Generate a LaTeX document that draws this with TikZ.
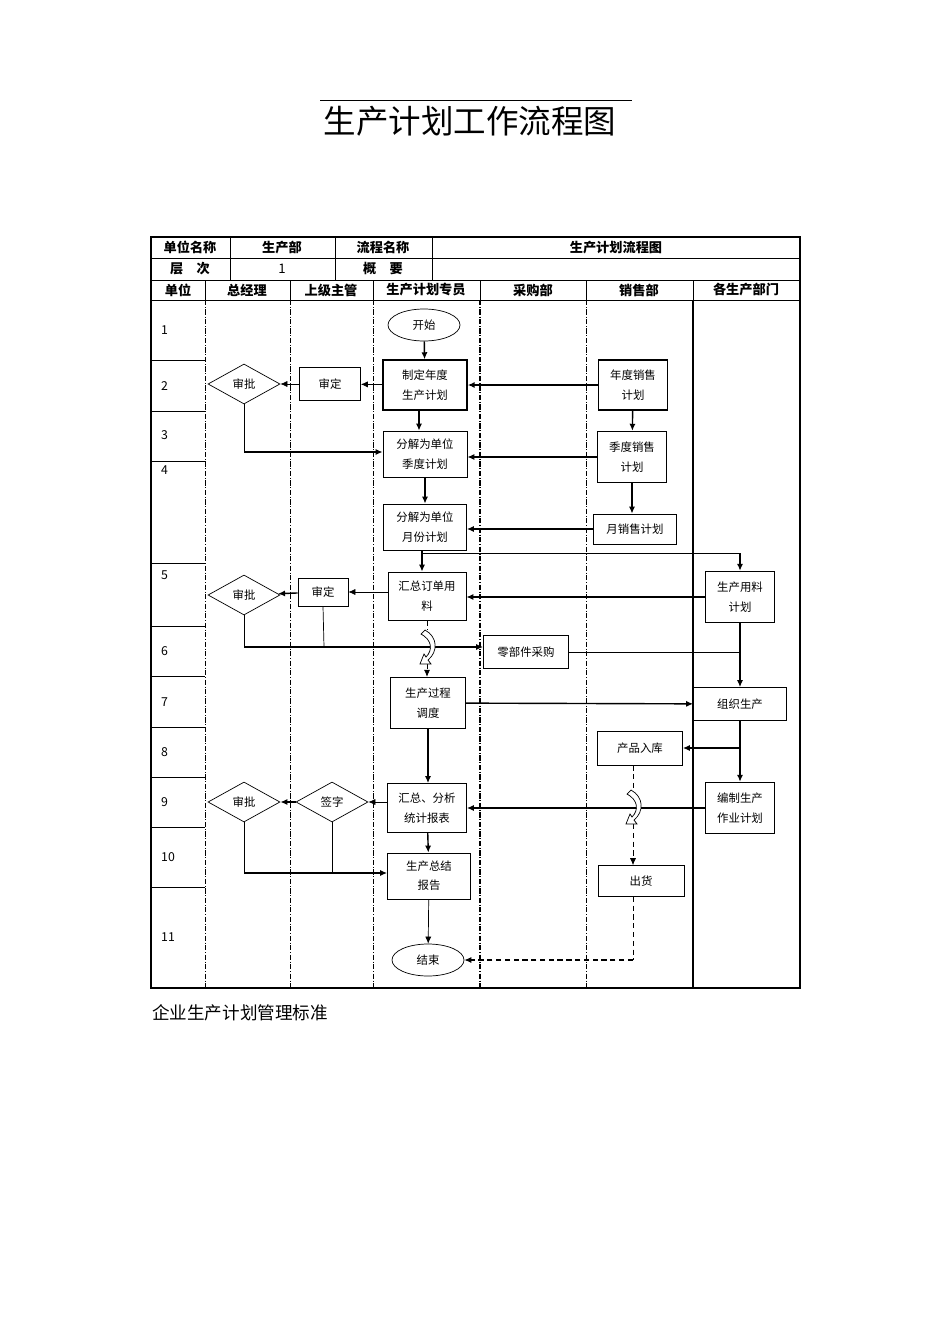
\documentclass[tikz,border=0pt]{standalone}
\usepackage{fontspec}
\setmainfont{Noto Sans CJK SC}
\usetikzlibrary{shapes.geometric,arrows.meta}
\begin{document}
\begin{tikzpicture}[x=0.02cm,y=-0.02cm,
  box/.style={draw,thick,minimum width=0pt,inner sep=0pt,align=center,font=\fontsize{6.5}{11}\selectfont},
  dia/.style={draw,diamond,aspect=1.8,minimum width=72*0.02cm,minimum height=40*0.02cm,inner sep=0pt,font=\fontsize{6.5}{8}\selectfont},
  oval/.style={draw,ellipse,minimum width=72*0.02cm,minimum height=32*0.02cm,inner sep=0pt,font=\fontsize{6.5}{8}\selectfont},
  arr/.style={-{Latex[length=4pt,width=3.5pt]},thick},
  tarr/.style={-{Latex[length=4pt,width=3.5pt]}},
  lane/.style={densely dashdotted,thin},
  hd/.style={font=\bfseries\fontsize{7.5}{9}\selectfont},
  num/.style={font=\fontsize{7}{8}\selectfont,anchor=west}]
\useasboundingbox (0,0) rectangle (950,1318);
% title
\draw[thin] (320,100) -- (632,100);
\node[font=\fontsize{18.5}{20}\selectfont] (title) at (470,121) {生产计划工作流程图};
\node[anchor=west,font=\fontsize{10}{12}\selectfont] (cap) at (146,1013) {企业生产计划管理标准};
% table
\draw[thick] (151,237) rectangle (800,988);
\draw (151,258) -- (800,258);
\draw (151,280) -- (800,280);
\draw (151,300) -- (800,300);
\foreach \x in {230,335,432} \draw (\x,237) -- (\x,280);
\foreach \x in {205,290,373,480,586,693} \draw (\x,280) -- (\x,300);
\node[hd] (h1) at (190,247.5) {单位名称};
\node[hd] (h2) at (282,247.5) {生产部};
\node[hd] (h3) at (383,247.5) {流程名称};
\node[hd] (h4) at (616,247.5) {生产计划流程图};
\node[hd] (h5) at (190,269) {层\quad 次};
\node[font=\fontsize{7.5}{9}\selectfont] (h6) at (282,269) {1};
\node[hd] (h7) at (383,269) {概\quad 要};
\node[hd] (c1) at (178,290) {单位};
\node[hd] (c2) at (247,290) {总经理};
\node[hd] (c3) at (331,290) {上级主管};
\node[hd] (c4) at (426,290) {生产计划专员};
\node[hd] (c5) at (533,290) {采购部};
\node[hd] (c6) at (639,290) {销售部};
\node[hd] (c7) at (746,290) {各生产部门};
\foreach \x in {205,290,373,586} \draw[lane] (\x,300) -- (\x,988);
\draw[densely dashdotted,semithick] (480,300) -- (480,988);
\draw[very thick] (693,300) -- (693,988);
\foreach \y in {360,411,461,563,626,676,727,777,827,887} \draw (151,\y) -- (205,\y);
\foreach \n/\y in {1/330,2/386,3/435,4/470,5/575,6/651,7/702,8/752,9/802,10/857,11/937}
  \node[num] at (155,\y) {\n};
% nodes
\node[oval] (start) at (424,325) {开始};
\node[box,minimum width=84*0.02cm,minimum height=50*0.02cm] (zd) at (425,385) {制定年度\\生产计划};
\draw[very thick] (383,360) -- (467,360);
\node[box,thin,minimum width=61*0.02cm,minimum height=33*0.02cm] (sd1) at (330,384) {审定};
\node[dia] (sp1) at (244,384) {审批};
\node[box,minimum width=69*0.02cm,minimum height=50*0.02cm] (nd) at (633,385) {年度销售\\计划};
\node[box,minimum width=69*0.02cm,minimum height=51*0.02cm] (jd) at (632,457) {季度销售\\计划};
\node[box,thin,minimum width=84*0.02cm,minimum height=46*0.02cm] (fj1) at (425,454) {分解为单位\\季度计划};
\node[box,thin,minimum width=83*0.02cm,minimum height=46*0.02cm] (fj2) at (425,527) {分解为单位\\月份计划};
\node[box,thin,minimum width=83*0.02cm,minimum height=30*0.02cm] (yd) at (635,529) {月销售计划};
\node[box,minimum width=69*0.02cm,minimum height=51*0.02cm] (yl) at (740,597) {生产用料\\计划};
\node[box,thin,minimum width=78*0.02cm,minimum height=48*0.02cm] (hz) at (427,596) {汇总订单用\\料};
\node[box,thin,minimum width=50*0.02cm,minimum height=28*0.02cm] (sd2) at (323,592) {审定};
\node[dia] (sp2) at (244,595) {审批};
\node[box,thin,minimum width=85*0.02cm,minimum height=33*0.02cm] (lb) at (526,652) {零部件采购};
\node[box,minimum width=75*0.02cm,minimum height=51*0.02cm] (sc) at (428,703) {生产过程\\调度};
\node[box,thin,minimum width=93*0.02cm,minimum height=33*0.02cm] (zz) at (740,704) {组织生产};
\node[box,thin,minimum width=85*0.02cm,minimum height=34*0.02cm] (rk) at (640,748) {产品入库};
\node[box,thin,minimum width=79*0.02cm,minimum height=49*0.02cm] (fx) at (427,808) {汇总、分析\\统计报表};
\node[dia] (qz) at (332,802) {签字};
\node[dia] (sp3) at (244,802) {审批};
\node[box,minimum width=69*0.02cm,minimum height=51*0.02cm] (bz) at (740,808) {编制生产\\作业计划};
\node[box,thin,minimum width=83*0.02cm,minimum height=46*0.02cm] (zj) at (429,876) {生产总结\\报告};
\node[box,thin,minimum width=86*0.02cm,minimum height=31*0.02cm] (ch) at (641,881) {出货};
\node[oval] (end) at (428,960) {结束};
\coordinate (a1) at (244,452);
\coordinate (a2) at (422,553);
\coordinate (a3) at (740,553);
\coordinate (a4) at (244,647);
\coordinate (a5) at (324,647);
\coordinate (a6) at (740,652);
\coordinate (a7) at (740,748);
\coordinate (a8) at (244,873);
\coordinate (a9) at (332,873);
\coordinate (a10) at (633,960);
% connectors
\draw[arr] (start) -- (zd);
\draw[tarr] (zd) -- (sd1);
\draw[tarr] (sd1) -- (sp1);
\draw[arr] (nd) -- (zd);
\draw[arr] (nd) -- (jd);
\draw[thin] (sp1.south) -- (a1);
\draw[arr] (a1) -- (fj1.west |- a1);
\draw[arr] (zd.south -| 419,0) -- (fj1.north -| 419,0);
\draw[arr] (jd) -- (fj1.east |- jd);
\draw[arr] (jd.south) -- (yd.north -| jd.south);
\draw[arr] (fj1) -- (fj2);
\draw[arr] (yd) -- (fj2.east |- yd);
\draw[arr] (fj2.south -| a2) -- (hz.north -| a2);
\draw[thin] (a2) -- (a3);
\draw[arr] (a3) -- (yl);
\draw[arr] (yl) -- (hz.east |- yl);
\draw[tarr] (hz.west |- sd2) -- (sd2);
\draw[arr] (sd2) -- (sp2);
\draw[thin] (sp2.south) -- (a4);
\draw[thin] (sd2.south) -- (a5);
\draw[arr] (a4) -- (lb.west |- a4);
\draw[densely dashed] (hz.south) -- (427,630);
\draw[densely dashed,-{Latex[length=4pt,width=3.5pt]}] (427,664) -- (sc.north -| 427,0);
\draw[fill=white] (425,630) .. controls (438,637) and (438,652) .. (428,660) -- (431,664) -- (420,664) -- (424,654) -- (426,657) .. controls (433,650) and (432,640) .. (421,634) -- cycle;
\draw[thin] (lb) -- (a6);
\draw[arr] (yl) -- (zz);
\draw[arr] (sc) -- (zz);
\draw[arr] (zz) -- (bz);
\draw[arr] (a7) -- (rk);
\draw[arr] (sc) -- (sc |- fx.north);
\draw[arr] (bz) -- (fx.east |- bz);
\draw[tarr] (fx.west |- qz) -- (qz);
\draw[arr] (qz) -- (sp3);
\draw[thin] (sp3.south) -- (a8);
\draw[thin] (qz.south) -- (a9);
\draw[arr] (a8) -- (zj.west |- a8);
\draw[arr] (fx) -- (zj);
\draw[tarr] (zj) -- (end);
\draw[densely dashed] (rk.south -| 633,0) -- (633,790);
\draw[densely dashed,-{Latex[length=4pt,width=3.5pt]}] (633,824) -- (ch.north -| 633,0);
\draw[fill=white] (631,790) .. controls (644,797) and (644,812) .. (634,820) -- (637,824) -- (626,824) -- (630,814) -- (632,817) .. controls (639,810) and (638,800) .. (627,794) -- cycle;
\draw[densely dashed] (ch.south -| a10) -- (a10);
\draw[densely dashed,semithick,-{Latex[length=4pt,width=3.5pt]}] (a10) -- (end);
\end{tikzpicture}
\end{document}
